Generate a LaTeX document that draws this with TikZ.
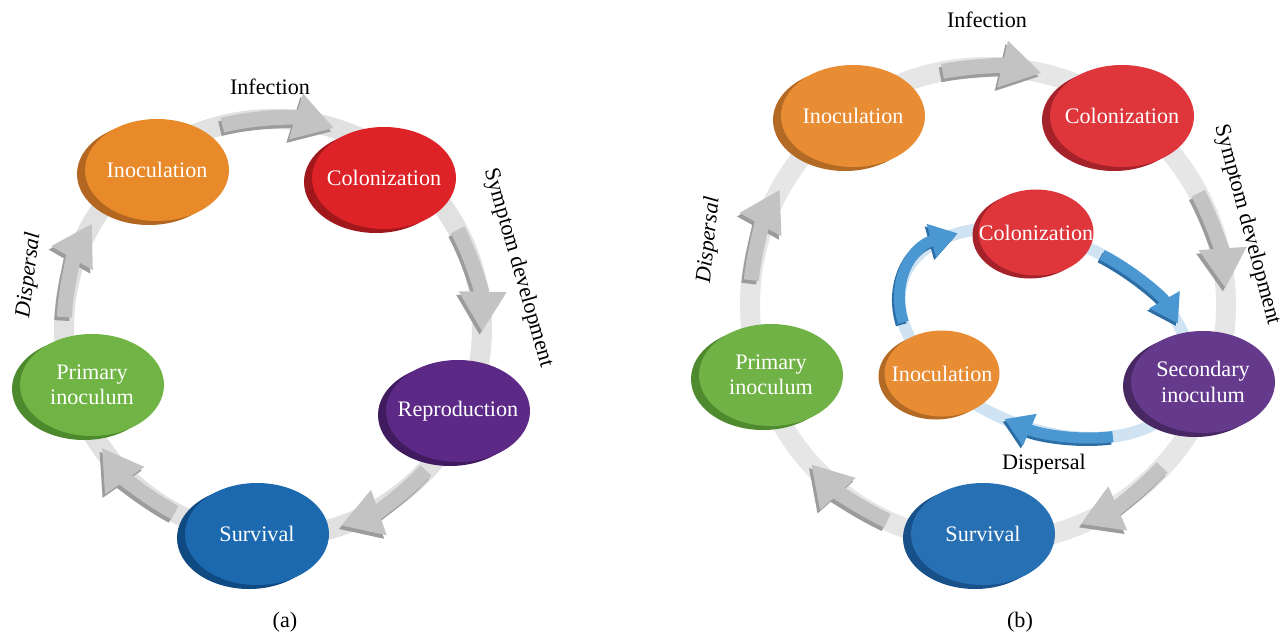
\documentclass[tikz,border=0pt]{standalone}
\usepackage{fontspec}
\setmainfont{Liberation Serif}
\usetikzlibrary{arrows.meta,shapes.geometric,shadows,calc}
\definecolor{ringA}{HTML}{E1E1E1}
\definecolor{ringB}{HTML}{E6E6E6}
\definecolor{arrG}{HTML}{C3C3C3}
\definecolor{arrD}{HTML}{9C9C9C}
\definecolor{ringBlue}{HTML}{CFE3F3}
\definecolor{arrB}{HTML}{4A97D2}
\definecolor{arrBD}{HTML}{2E6EA6}
\definecolor{orA}{HTML}{E8892A}\definecolor{orD}{HTML}{B2661F}
\definecolor{rdA}{HTML}{DD2228}\definecolor{rdD}{HTML}{A0171C}
\definecolor{puA}{HTML}{5C2986}\definecolor{puD}{HTML}{401B5F}
\definecolor{blA}{HTML}{1C69AF}\definecolor{blD}{HTML}{0F4A82}
\definecolor{grA}{HTML}{6FB444}\definecolor{grD}{HTML}{4D8A2D}
\definecolor{orB}{HTML}{E98D34}\definecolor{orBD}{HTML}{B36A24}
\definecolor{rdB}{HTML}{DF363B}\definecolor{rdBD}{HTML}{A5222A}
\definecolor{puB}{HTML}{653A8D}\definecolor{puBD}{HTML}{472863}
\definecolor{blB}{HTML}{2770B4}\definecolor{blBD}{HTML}{185089}
\definecolor{grB}{HTML}{70B245}\definecolor{grBD}{HTML}{4F8A2F}
\newcommand\dgfont{\fontsize{12.6}{14.5}\selectfont}
\tikzset{
  blob/.style n args={2}{ellipse, fill=#1, draw=none, inner sep=0pt,
    minimum width=2.88cm, minimum height=2.04cm,
    drop shadow={shadow xshift=-0.16cm, shadow yshift=-0.08cm, fill=#2, opacity=1}},
  innerblob/.style n args={2}{ellipse, fill=#1, draw=none, inner sep=0pt,
    minimum width=2.30cm, minimum height=1.72cm,
    drop shadow={shadow xshift=-0.12cm, shadow yshift=-0.06cm, fill=#2, opacity=1}},
  ntext/.style={text=white, font=\dgfont, align=center, inner sep=0pt},
  lbl/.style={font=\dgfont, text=black, inner sep=0pt},
  ring/.style={line width=0.4cm},
  garrow/.style={line width=0.3cm, -{Triangle[width=0.9cm, length=0.8cm]}},
  barrow/.style={line width=0.22cm, -{Triangle[width=0.66cm, length=0.55cm]}},
}
\newcommand\grayarrow[4]{%
  \draw[garrow, arrD, transform canvas={shift={(-0.05cm,-0.07cm)}}] ($(#1)+(#3:#2)$) arc[start angle=#3, end angle=#4, radius=#2];
  \draw[garrow, arrG] ($(#1)+(#3:#2)$) arc[start angle=#3, end angle=#4, radius=#2];}
\newcommand\bluearrow[2]{%
  \draw[barrow, arrBD, transform canvas={shift={(-0.04cm,-0.05cm)}}] (#1:3.04cm and 1.90cm) arc[start angle=#1, end angle=#2, x radius=3.04cm, y radius=1.90cm];
  \draw[barrow, arrB] (#1:3.04cm and 1.90cm) arc[start angle=#1, end angle=#2, x radius=3.04cm, y radius=1.90cm];}
\begin{document}
\begin{tikzpicture}
\useasboundingbox (0,0) rectangle (25.72,-12.70);
\coordinate (Ca) at (5.46,-6.56);
\coordinate (Cb) at (19.76,-6.10);
\coordinate (Ci) at (20.90,-6.66);

% ---------- panel (a) ----------
\draw[ring, ringA] (Ca) circle[radius=4.18];
\grayarrow{Ca}{4.18}{104}{73}
\grayarrow{Ca}{4.18}{28}{-1}
\grayarrow{Ca}{4.18}{-43}{-71}
\grayarrow{Ca}{4.18}{242}{215}
\grayarrow{Ca}{4.18}{177}{150}

\node[blob={orA}{orD}, label={[ntext]center:Inoculation}] (inoA) at (3.14,-3.40) {};
\node[blob={rdA}{rdD}, label={[ntext]center:Colonization}] (colA) at (7.68,-3.56) {};
\node[blob={puA}{puD}, label={[ntext]center:Reproduction}] (repA) at (9.16,-8.22) {};
\node[blob={blA}{blD}, label={[ntext]center:Survival}] (surA) at (5.14,-10.68) {};
\node[blob={grA}{grD}, label={[ntext]center:{Primary\\inoculum}}] (priA) at (1.84,-7.70) {};

\node[lbl] (infA) at (5.40,-1.74) {Infection};
\node[lbl, rotate=-74] (symA) at (10.36,-5.36) {Symptom development};
\node[lbl, font=\dgfont\itshape, rotate=83] (disA) at (0.58,-5.50) {Dispersal};
\node[lbl] (capA) at (5.70,-12.44) {(a)};

% ---------- panel (b) ----------
\draw[ring, ringB] (Cb) circle[radius=4.76];
\grayarrow{Cb}{4.76}{101}{77}
\grayarrow{Cb}{4.76}{28}{4}
\grayarrow{Cb}{4.76}{-43}{-67}
\grayarrow{Cb}{4.76}{245}{222}
\grayarrow{Cb}{4.76}{174}{151}

\begin{scope}[shift={(Ci)}, rotate=-22]
  \draw[line width=0.24cm, ringBlue] (0,0) ellipse[x radius=3.04cm, y radius=1.90cm];
  \bluearrow{207}{141}
  \bluearrow{81}{38}
  \bluearrow{-48}{-92}
\end{scope}

\node[blob={orB}{orBD}, label={[ntext]center:Inoculation}] (inoB) at (17.06,-2.32) {};
\node[blob={rdB}{rdBD}, label={[ntext]center:Colonization}] (colB) at (22.44,-2.32) {};
\node[blob={puB}{puBD}, label={[ntext]center:{Secondary\\inoculum}}] (secB) at (24.06,-7.64) {};
\node[blob={blB}{blBD}, label={[ntext]center:Survival}] (surB) at (19.66,-10.68) {};
\node[blob={grB}{grBD}, label={[ntext]center:{Primary\\inoculum}}] (priB) at (15.42,-7.50) {};
\node[innerblob={rdB}{rdBD}, label={[ntext]center:Colonization}] (icolB) at (20.72,-4.65) {};
\node[innerblob={orB}{orBD}, label={[ntext]center:Inoculation}] (iinoB) at (18.84,-7.47) {};

\node[lbl] (infB) at (19.74,-0.40) {Infection};
\node[lbl, rotate=-75] (symB) at (24.94,-4.50) {Symptom development};
\node[lbl, font=\dgfont\itshape, rotate=84] (disB) at (14.18,-4.80) {Dispersal};
\node[lbl] (disB2) at (20.88,-9.28) {Dispersal};
\node[lbl] (capB) at (20.40,-12.44) {(b)};
\end{tikzpicture}
\end{document}
